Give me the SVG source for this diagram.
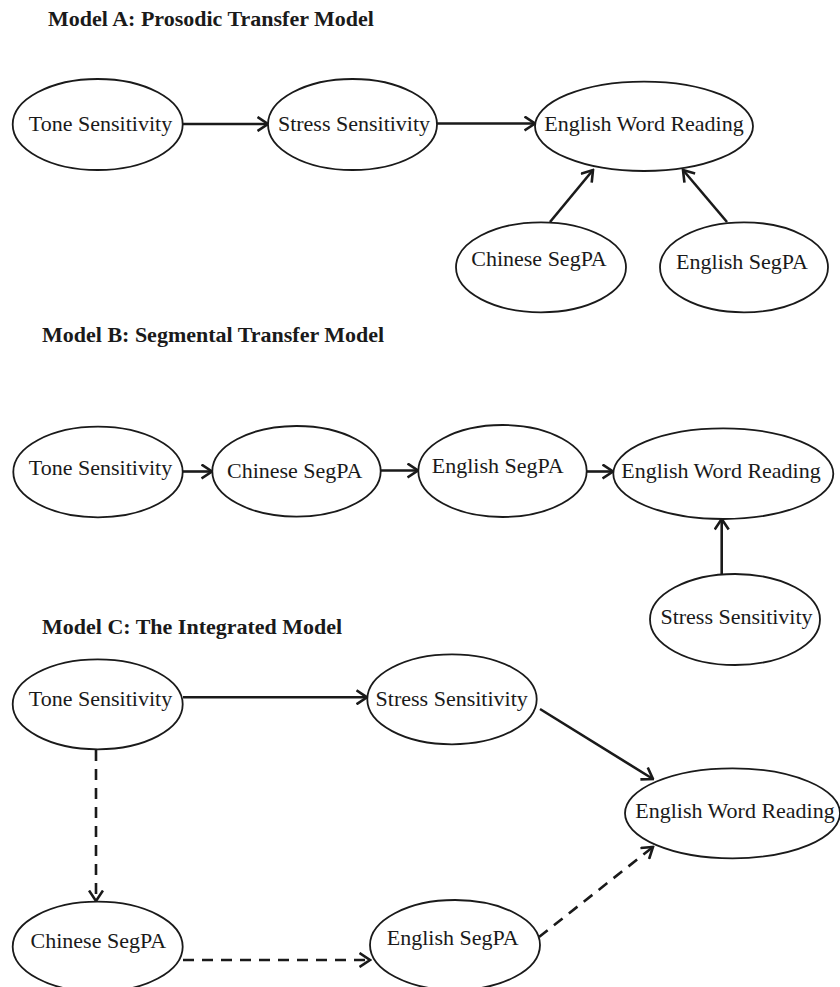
<svg xmlns="http://www.w3.org/2000/svg" width="840" height="987" viewBox="0 0 840 987">
<style>
text{font-family:"Liberation Serif","Times New Roman",serif;font-size:22px;fill:#1a1a1a}
.title{font-weight:bold}
.lbl{text-anchor:middle}
ellipse{fill:#fff;stroke:#1a1a1a;stroke-width:1.8}
.e{fill:none;stroke:#1a1a1a;stroke-width:2.6;marker-end:url(#arr)}
.d{stroke-dasharray:11 8}
</style>
<defs>
<marker id="arr" viewBox="0 0 13 16" refX="11.5" refY="8" markerWidth="13" markerHeight="16" markerUnits="userSpaceOnUse" orient="auto">
<path d="M1,1 L11.5,8 L1,15" fill="none" stroke="#1a1a1a" stroke-width="2.6"/>
</marker>
</defs>
<rect width="840" height="987" fill="#fff"/>
<text class="title" x="48" y="26">Model A: Prosodic Transfer Model</text>
<text class="title" x="42" y="342">Model B: Segmental Transfer Model</text>
<text class="title" x="42" y="634">Model C: The Integrated Model</text>
<g id="connectors">
<path class="e" d="M183,124 L268,124"/>
<path class="e" d="M437,123.5 L535,123.5"/>
<path class="e" d="M550,222 L593,170"/>
<path class="e" d="M727,222 L683,170"/>
<path class="e" d="M183,471.5 L212,471.5"/>
<path class="e" d="M381,470.5 L418,470.5"/>
<path class="e" d="M587,471.5 L613,471.5"/>
<path class="e" d="M721.7,574 L721.7,519"/>
<path class="e" d="M183,697.3 L367,697.3"/>
<path class="e d" d="M96,750 L96,901"/>
<path class="e d" d="M183,960 L370,960"/>
<path class="e" d="M540,709 L653,779"/>
<path class="e d" d="M539,937 L653,847"/>
</g>
<g id="a_tone"><ellipse cx="97.7" cy="124.5" rx="85" ry="45.5"/><text class="lbl" x="100.5" y="131">Tone Sensitivity</text></g>
<g id="a_stress"><ellipse cx="352.5" cy="124.5" rx="84.5" ry="45.5"/><text class="lbl" x="354" y="131">Stress Sensitivity</text></g>
<g id="a_ewr"><ellipse cx="644" cy="126.3" rx="109" ry="44.7"/><text class="lbl" x="644" y="131">English Word Reading</text></g>
<g id="a_chinese"><ellipse cx="541" cy="267.3" rx="85" ry="45"/><text class="lbl" x="539" y="266">Chinese SegPA</text></g>
<g id="a_english"><ellipse cx="744" cy="267.3" rx="84" ry="45"/><text class="lbl" x="742" y="269">English SegPA</text></g>
<g id="b_tone"><ellipse cx="98" cy="472" rx="84.7" ry="45.3"/><text class="lbl" x="100.5" y="475">Tone Sensitivity</text></g>
<g id="b_chinese"><ellipse cx="296.5" cy="471.3" rx="84.2" ry="45.3"/><text class="lbl" x="294.7" y="478">Chinese SegPA</text></g>
<g id="b_english"><ellipse cx="502.5" cy="471" rx="84.2" ry="46"/><text class="lbl" x="497.7" y="473">English SegPA</text></g>
<g id="b_ewr"><ellipse cx="723.3" cy="473.7" rx="110" ry="45.3"/><text class="lbl" x="721" y="478">English Word Reading</text></g>
<g id="b_stress"><ellipse cx="735" cy="619.5" rx="85" ry="45.5"/><text class="lbl" x="736.5" y="624">Stress Sensitivity</text></g>
<g id="c_tone"><ellipse cx="97.7" cy="704.3" rx="85" ry="45"/><text class="lbl" x="100.5" y="706">Tone Sensitivity</text></g>
<g id="c_stress"><ellipse cx="452" cy="699.3" rx="84.7" ry="45"/><text class="lbl" x="451.7" y="706">Stress Sensitivity</text></g>
<g id="c_ewr"><ellipse cx="732.5" cy="813.3" rx="107.5" ry="45"/><text class="lbl" x="735" y="818">English Word Reading</text></g>
<g id="c_chinese"><ellipse cx="97.7" cy="946.7" rx="85" ry="45"/><text class="lbl" x="98.3" y="948">Chinese SegPA</text></g>
<g id="c_english"><ellipse cx="455" cy="945" rx="85" ry="45"/><text class="lbl" x="452.7" y="945">English SegPA</text></g>
</svg>
